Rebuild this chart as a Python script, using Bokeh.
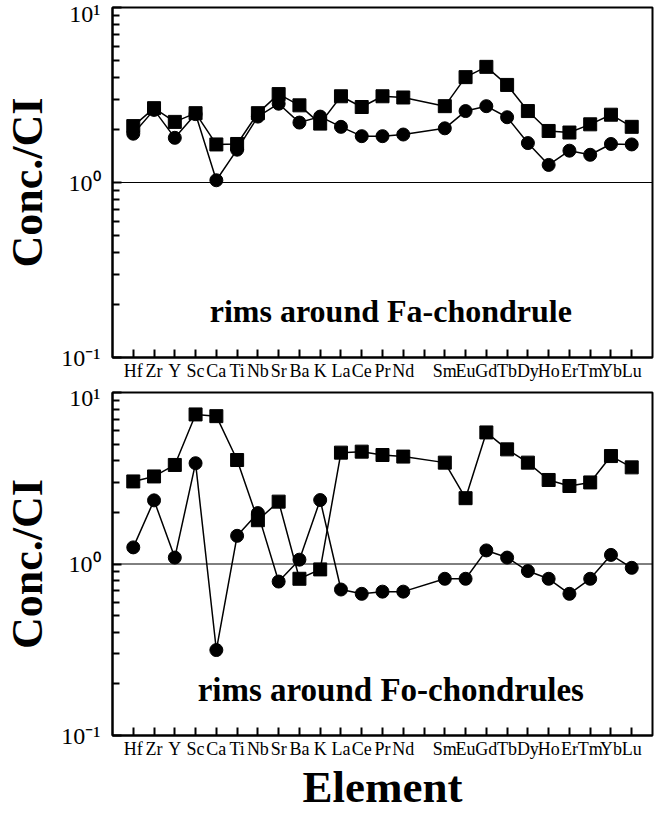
from bokeh.plotting import figure
from bokeh.models import Range1d, FixedTicker, Span, Label
from bokeh.layouts import column
from bokeh.embed import file_html
from bokeh.resources import INLINE

# ---- data ----
elements = ["Hf", "Zr", "Y", "Sc", "Ca", "Ti", "Nb", "Sr", "Ba", "K", "La", "Ce", "Pr", "Nd",
            "Sm", "Eu", "Gd", "Tb", "Dy", "Ho", "Er", "Tm", "Yb", "Lu"]
slots = elements[:14] + ["Pm"] + elements[14:]   # Pm slot left empty

fa_squares = [2.10, 2.66, 2.22, 2.49, 1.65, 1.66, 2.49, 3.20, 2.76, 2.17, 3.11, 2.70, 3.11, 3.06,
              2.73, 4.00, 4.58, 3.61, 2.56, 1.97, 1.93, 2.15, 2.44, 2.08]
fa_circles = [1.90, 2.60, 1.80, 2.46, 1.03, 1.54, 2.38, 2.82, 2.20, 2.38, 2.08, 1.84, 1.84, 1.88,
              2.04, 2.56, 2.73, 2.36, 1.68, 1.26, 1.52, 1.44, 1.66, 1.65]

fo_squares = [3.03, 3.24, 3.78, 7.45, 7.28, 4.04, 1.80, 2.31, 0.82, 0.93, 4.46, 4.52, 4.32, 4.23,
              3.90, 2.42, 5.85, 4.66, 3.90, 3.09, 2.85, 2.99, 4.26, 3.66]
fo_circles = [1.25, 2.35, 1.09, 3.87, 0.315, 1.46, 1.98, 0.79, 1.06, 2.36, 0.71, 0.67, 0.69, 0.69,
              0.82, 0.82, 1.20, 1.09, 0.91, 0.82, 0.67, 0.82, 1.13, 0.95]

y_major = [0.1, 1, 10]
y_major_labels = ["10\u207b\u00b9", "10\u2070", "10\u00b9"]
y_minor = [0.2, 0.3, 0.4, 0.5, 0.6, 0.7, 0.8, 0.9, 2, 3, 4, 5, 6, 7, 8, 9]

panel_titles = ["rims around Fa-chondrule", "rims around Fo-chondrules"]

SERIF = "Liberation Serif"
xs = [slots.index(e) for e in elements]
X_START, X_END = -1.0, 25.0
Y_START, Y_END = 0.1, 10


def make_panel(sq, ci, title, title_size, height, min_top, min_bottom, xlabel):
    p = figure(width=655, height=height, y_axis_type="log",
               x_range=Range1d(X_START, X_END), y_range=Range1d(Y_START, Y_END),
               output_backend="svg", toolbar_location=None,
               min_border_left=110, min_border_right=3,
               min_border_top=min_top, min_border_bottom=min_bottom)
    p.background_fill_color = "white"
    p.border_fill_color = "white"
    p.outline_line_color = "black"
    p.outline_line_width = 2
    p.grid.visible = False

    # y axis (log, inward ticks)
    ya = p.yaxis[0]
    ya.ticker = FixedTicker(ticks=y_major, minor_ticks=y_minor)
    ya.major_label_overrides = {v: s for v, s in zip(y_major, y_major_labels)}
    ya.major_label_text_font = SERIF
    ya.major_label_text_font_size = "24px"
    ya.major_label_text_color = "black"
    ya.major_label_standoff = 12
    ya.major_tick_in = 9
    ya.major_tick_out = 0
    ya.minor_tick_in = 7
    ya.minor_tick_out = 0
    ya.major_tick_line_color = "black"
    ya.minor_tick_line_color = "black"
    ya.major_tick_line_width = 2
    ya.minor_tick_line_width = 2
    ya.axis_line_color = "black"
    ya.axis_line_width = 2
    ya.axis_label = "Conc./CI"
    ya.axis_label_text_font = SERIF
    ya.axis_label_text_font_style = "bold"
    ya.axis_label_text_font_size = "44px"
    ya.axis_label_text_color = "black"
    ya.axis_label_standoff = 6

    # x axis (element names, inward ticks)
    xa = p.xaxis[0]
    xa.ticker = FixedTicker(ticks=list(range(len(slots))))
    xa.major_label_overrides = {i: ("" if s == "Pm" else s) for i, s in enumerate(slots)}
    xa.major_label_text_font = SERIF
    xa.major_label_text_font_size = "18px"
    xa.major_label_text_color = "black"
    xa.major_label_standoff = 3
    xa.major_tick_in = 8
    xa.major_tick_out = 0
    xa.major_tick_line_color = "black"
    xa.major_tick_line_width = 2
    xa.axis_line_color = "black"
    xa.axis_line_width = 2
    if xlabel:
        xa.axis_label = xlabel
        xa.axis_label_text_font = SERIF
        xa.axis_label_text_font_style = "bold"
        xa.axis_label_text_font_size = "45px"
        xa.axis_label_text_color = "black"
        xa.axis_label_standoff = 0

    p.add_layout(Span(location=1, dimension="width", line_color="black", line_width=1))

    p.line(xs, sq, line_color="black", line_width=1.5)
    p.scatter(xs, sq, marker="square", size=13, fill_color="black", line_color="black")
    p.line(xs, ci, line_color="black", line_width=1.5)
    p.scatter(xs, ci, marker="circle", size=13, fill_color="black", line_color="black")

    p.add_layout(Label(x=12.4, y=0.185, text=title, text_align="center",
                       text_baseline="alphabetic", text_font=SERIF,
                       text_font_style="bold", text_font_size=title_size,
                       text_color="black"))
    return p


p1 = make_panel(fa_squares, fa_circles, panel_titles[0], "32px", 384, 7, 27, None)
p2 = make_panel(fo_squares, fo_circles, panel_titles[1], "33px", 430, 8, 70, "Element")

layout = column(p1, p2)
open("out.html", "w").write(file_html(layout, INLINE))
